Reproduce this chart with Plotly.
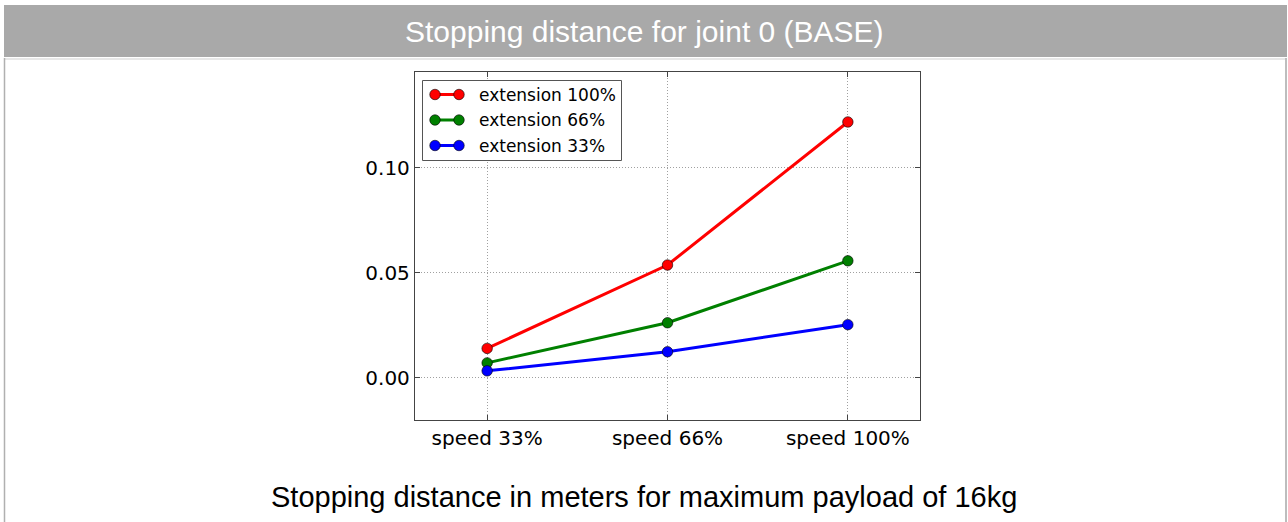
import plotly.graph_objects as go

# ---- data ----
speeds = ["speed 33%", "speed 66%", "speed 100%"]
series_names = ["extension 100%", "extension 66%", "extension 33%"]
ext_100 = [0.0139, 0.0536, 0.1217]
ext_66 = [0.0070, 0.0261, 0.0556]
ext_33 = [0.0032, 0.0123, 0.0252]
series_values = [ext_100, ext_66, ext_33]
colors = ["#ff0000", "#008000", "#0000ff"]
y_ticks = [0.0, 0.05, 0.10]
y_tick_labels = ["0.00", "0.05", "0.10"]
title_text = "Stopping distance for joint 0 (BASE)"
caption_text = "Stopping distance in meters for maximum payload of 16kg"

# ---- layout geometry (pixels) ----
W, H = 1288, 522
L, R, T, B = 415, 920, 72, 420


def px(x):
    return (x - L) / (R - L)


def py(y):
    return (B - y) / (B - T)


fig = go.Figure()
for name, vals, col in zip(series_names, series_values, colors):
    fig.add_trace(go.Scatter(
        x=speeds, y=vals, name=name, mode="lines+markers",
        line=dict(color=col, width=3),
        marker=dict(size=10.5, color=col, line=dict(color="black", width=0.6)),
        showlegend=False,
    ))

shapes = []
annotations = []

# header bar and panel frame
shapes.append(dict(type="rect", xref="paper", yref="paper",
                   x0=px(4), x1=px(1287), y0=py(57), y1=py(5),
                   fillcolor="#a9a9a9", line=dict(width=0), layer="below"))
shapes.append(dict(type="line", xref="paper", yref="paper",
                   x0=px(4), x1=px(1287), y0=py(59), y1=py(59),
                   line=dict(color="#cfcfcf", width=1)))
shapes.append(dict(type="line", xref="paper", yref="paper",
                   x0=px(4.5), x1=px(4.5), y0=py(58), y1=py(530),
                   line=dict(color="#b0b0b0", width=1.5)))
shapes.append(dict(type="line", xref="paper", yref="paper",
                   x0=px(1286), x1=px(1286), y0=py(58), y1=py(530),
                   line=dict(color="#bdbdbd", width=2)))

annotations.append(dict(text=title_text, xref="paper", yref="paper",
                        x=px(644), y=py(32), showarrow=False,
                        xanchor="center", yanchor="middle",
                        font=dict(family="Liberation Sans, Arial", size=30, color="white")))
annotations.append(dict(text=caption_text, xref="paper", yref="paper",
                        x=px(644), y=py(497), showarrow=False,
                        xanchor="center", yanchor="middle",
                        font=dict(family="Liberation Sans, Arial", size=29, color="black")))

# legend box (matplotlib style, two markers per entry)
shapes.append(dict(type="rect", xref="paper", yref="paper",
                   x0=px(422.5), x1=px(621.5), y0=py(160.5), y1=py(80.5),
                   fillcolor="white", line=dict(color="#555555", width=1)))
row_y = [94.5, 120, 145.5]
rad = 5.25
for name, col, ry in zip(series_names, colors, row_y):
    shapes.append(dict(type="line", xref="paper", yref="paper",
                       x0=px(435), x1=px(459), y0=py(ry), y1=py(ry),
                       line=dict(color=col, width=3)))
    for cx in (435, 459):
        shapes.append(dict(type="circle", xref="paper", yref="paper",
                           x0=px(cx - rad), x1=px(cx + rad),
                           y0=py(ry + rad), y1=py(ry - rad),
                           fillcolor=col, line=dict(color="black", width=0.6)))
    annotations.append(dict(text=name, xref="paper", yref="paper",
                            x=px(476.5), y=py(ry), showarrow=False,
                            xanchor="left", yanchor="middle",
                            font=dict(family="DejaVu Sans", size=17, color="black")))

axis_common = dict(
    showgrid=True, gridcolor="#a0a0a0", gridwidth=1, griddash="1px,2px",
    showline=True, linecolor="#444444", linewidth=1.3, mirror="ticks",
    ticks="inside", ticklen=5, tickcolor="#444444", tickwidth=1,
    tickfont=dict(family="DejaVu Sans", size=20, color="black"),
    zeroline=False,
)

fig.update_layout(
    width=W, height=H, autosize=False,
    margin=dict(l=L, r=W - R, t=T, b=H - B, pad=0),
    paper_bgcolor="white", plot_bgcolor="white",
    xaxis=dict(type="category", range=[-0.4, 2.4], **axis_common),
    yaxis=dict(range=[-0.0202, 0.1455], tickvals=y_ticks, ticktext=y_tick_labels,
               **axis_common),
    shapes=shapes, annotations=annotations, showlegend=False,
)

fig.write_html("out.html", config={"displayModeBar": False},
               post_script="document.body.style.margin='0';document.body.style.overflow='hidden';")
